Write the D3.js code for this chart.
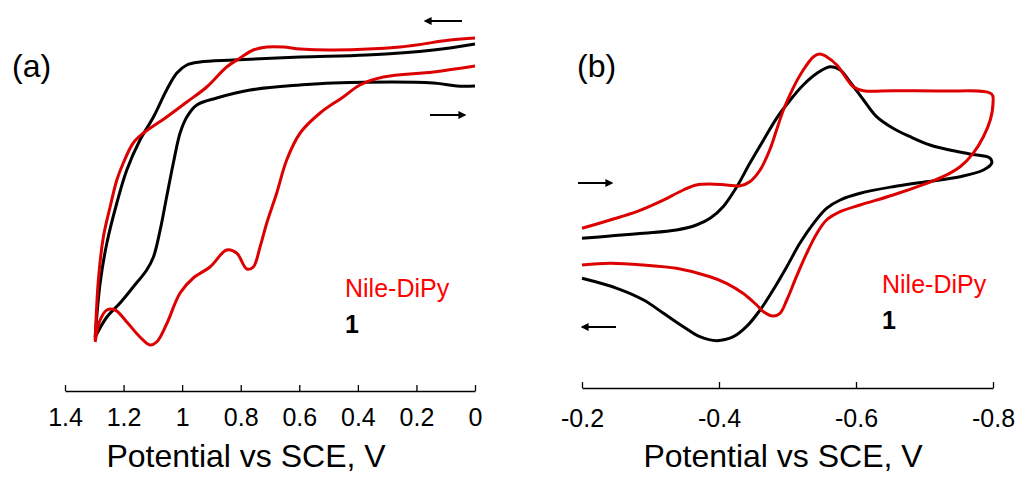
<!DOCTYPE html>
<html>
<head>
<meta charset="utf-8">
<script src="https://cdn.jsdelivr.net/npm/d3@7"></script>
<style>
  body { margin: 0; background: #fff; }
  svg text { font-family: Arial, "Liberation Sans", Helvetica, sans-serif; }
  .axis path, .axis line { stroke: #000; stroke-width: 1.3px; }
  .axis text { font-size: 25px; fill: #000; }
</style>
</head>
<body>
<div id="chart"></div>
<script>
// ---- data: [potential (V vs SCE), current (arb. units)] ----
// panel (a), oxidation scan
const a_dipy_fwd = [[0.00,30.5],[0.085,30.3],[0.256,29.6],[0.484,29.3],[0.597,29.4],[0.654,29.6],[0.711,29.6],[0.757,29.3],[0.802,28.5],[0.848,27.6],[0.916,25.6],[0.984,24.1],[1.053,22.6],[1.132,21.0],[1.167,20.0],[1.201,18.0],[1.223,16.3],[1.246,13.6],[1.269,10.6],[1.286,6.3],[1.297,0.3]];
const a_dipy_rev = [[1.297,0.1],[1.280,2.3],[1.257,3.3],[1.229,3.3],[1.189,2.1],[1.144,0.6],[1.110,-0.2],[1.087,0.1],[1.053,1.9],[1.007,5.0],[0.962,6.5],[0.905,7.6],[0.848,9.3],[0.814,9.0],[0.779,7.4],[0.757,7.6],[0.734,9.6],[0.711,12.0],[0.677,15.0],[0.643,18.3],[0.597,21.0],[0.529,23.0],[0.450,24.6],[0.393,25.8],[0.313,26.6],[0.142,27.1],[0.00,27.7]];
const a_one_fwd = [[0.00,29.9],[0.142,29.3],[0.370,28.8],[0.597,28.6],[0.825,28.3],[0.939,28.1],[0.984,27.8],[1.018,27.0],[1.053,25.3],[1.098,22.6],[1.144,20.3],[1.189,17.3],[1.223,14.0],[1.257,10.0],[1.280,6.0],[1.297,0.6]];
const a_one_rev = [[1.297,0.6],[1.257,2.6],[1.212,4.0],[1.167,5.6],[1.121,7.3],[1.098,8.6],[1.075,11.3],[1.053,14.6],[1.030,18.0],[1.007,21.0],[0.984,22.6],[0.950,23.8],[0.882,24.5],[0.768,25.3],[0.597,25.8],[0.484,26.0],[0.142,26.0],[0.062,25.7],[0.00,25.7]];

// panel (b), reduction scan (closed loops)
const b_dipy = [[-0.200,2.17],[-0.241,3.0],[-0.280,3.83],[-0.314,4.83],[-0.348,6.0],[-0.367,6.5],[-0.387,6.6],[-0.411,6.5],[-0.431,6.43],[-0.445,6.83],[-0.460,8.0],[-0.474,10.0],[-0.484,12.0],[-0.494,14.0],[-0.508,16.17],[-0.523,18.0],[-0.538,19.33],[-0.547,19.6],[-0.557,19.33],[-0.572,18.5],[-0.586,17.17],[-0.596,16.33],[-0.611,15.93],[-0.654,15.93],[-0.727,15.9],[-0.798,15.6],[-0.800,14.67],[-0.796,13.0],[-0.786,11.33],[-0.771,9.67],[-0.752,8.33],[-0.727,7.33],[-0.703,6.67],[-0.654,5.5],[-0.606,4.5],[-0.577,3.83],[-0.557,3.0],[-0.543,1.67],[-0.528,-0.33],[-0.513,-2.67],[-0.499,-5.0],[-0.489,-6.33],[-0.479,-6.6],[-0.465,-6.17],[-0.455,-5.5],[-0.435,-4.33],[-0.411,-3.33],[-0.387,-2.67],[-0.338,-1.83],[-0.290,-1.5],[-0.241,-1.33],[-0.200,-1.5]];
const b_one = [[-0.200,1.17],[-0.241,1.4],[-0.290,1.67],[-0.338,2.0],[-0.367,2.5],[-0.387,3.17],[-0.406,4.33],[-0.426,6.33],[-0.445,8.67],[-0.465,11.0],[-0.484,13.17],[-0.504,15.0],[-0.523,16.5],[-0.543,17.67],[-0.562,18.33],[-0.577,18.0],[-0.591,16.83],[-0.611,15.0],[-0.630,13.33],[-0.654,12.17],[-0.679,11.33],[-0.708,10.5],[-0.737,10.0],[-0.766,9.6],[-0.796,9.17],[-0.798,8.67],[-0.786,8.0],[-0.752,7.33],[-0.703,6.83],[-0.654,6.33],[-0.606,5.67],[-0.577,5.0],[-0.557,4.17],[-0.538,2.67],[-0.518,0.67],[-0.499,-1.67],[-0.479,-4.0],[-0.460,-6.0],[-0.440,-7.67],[-0.421,-8.67],[-0.397,-9.07],[-0.372,-8.67],[-0.348,-7.67],[-0.319,-6.33],[-0.290,-5.0],[-0.251,-3.83],[-0.200,-2.83]];

const ticks_a = [1.4, 1.2, 1, 0.8, 0.6, 0.4, 0.2, 0];
const ticks_b = [-0.2, -0.4, -0.6, -0.8];
const x_title = "Potential vs SCE, V";
const legend_names = ["Nile-DiPy", "1"];

const red = "#dd0000";
const width = 1020, height = 478;

const svg = d3.select("#chart").append("svg")
  .attr("width", width)
  .attr("height", height);

// arrowhead
svg.append("defs").append("marker")
  .attr("id", "head")
  .attr("viewBox", "0 0 10 10")
  .attr("refX", 2).attr("refY", 5)
  .attr("markerWidth", 4).attr("markerHeight", 4)
  .attr("orient", "auto")
  .append("path")
  .attr("d", "M0,0L10,5L0,10z")
  .attr("fill", "#000");

const line_of = (x, y) => d3.line()
  .x(d => x(d[0]))
  .y(d => y(d[1]))
  .curve(d3.curveCatmullRom.alpha(0.5));

function panel(opt) {
  const g = svg.append("g");
  const x = d3.scaleLinear().domain(opt.xdom).range([opt.x0, opt.x1]);
  const y = d3.scaleLinear().domain(opt.ydom).range(opt.yrange);
  const line = line_of(x, y);

  opt.series.forEach(s => {
    g.append("path")
      .datum(s.data)
      .attr("d", line)
      .attr("fill", "none")
      .attr("stroke", s.color)
      .attr("stroke-width", 3)
      .attr("stroke-linejoin", "round");
  });

  g.append("g")
    .attr("class", "axis")
    .attr("transform", `translate(0,${opt.axisY})`)
    .call(d3.axisBottom(x)
      .tickValues(opt.ticks)
      .tickFormat(d => String(d))
      .tickSizeInner(-6)
      .tickSizeOuter(0)
      .tickPadding(opt.pad))
    .attr("font-family", null);

  g.append("text")
    .attr("x", opt.titleX).attr("y", 467)
    .attr("text-anchor", "middle")
    .attr("font-size", 32)
    .text(x_title);

  g.append("text")
    .attr("x", opt.tag[0]).attr("y", opt.tag[1])
    .attr("font-size", 32)
    .text(opt.tagText);

  g.append("text")
    .attr("x", opt.leg[0]).attr("y", opt.leg[1])
    .attr("font-size", 25).attr("fill", "#ff0000")
    .text(legend_names[0]);
  g.append("text")
    .attr("x", opt.leg[0]).attr("y", opt.leg[1] + 36)
    .attr("font-size", 25).attr("font-weight", "bold")
    .text(legend_names[1]);

  opt.arrows.forEach(a => {
    g.append("line")
      .attr("x1", a[0]).attr("x2", a[1])
      .attr("y1", a[2]).attr("y2", a[2])
      .attr("stroke", "#000").attr("stroke-width", 2)
      .attr("marker-end", "url(#head)");
  });
}

panel({
  xdom: [1.4, 0], x0: 65, x1: 475,
  ydom: [0, 30], yrange: [343, 43],
  series: [
    { data: a_one_fwd, color: "#000" },
    { data: a_one_rev, color: "#000" },
    { data: a_dipy_fwd, color: red },
    { data: a_dipy_rev, color: red }
  ],
  axisY: 391, ticks: ticks_a, pad: 17,
  titleX: 246, tag: [12, 77], tagText: "(a)",
  leg: [345, 297],
  arrows: [[462, 430, 21], [430, 460, 115]]
});

panel({
  xdom: [-0.2, -0.8], x0: 582, x1: 993,
  ydom: [0, 10], yrange: [250, 150],
  series: [
    { data: b_one, color: "#000" },
    { data: b_dipy, color: red }
  ],
  axisY: 388, ticks: ticks_b, pad: 21,
  titleX: 783, tag: [577, 77], tagText: "(b)",
  leg: [882, 293],
  arrows: [[578, 607, 183], [616, 587, 327]]
});
</script>
</body>
</html>
